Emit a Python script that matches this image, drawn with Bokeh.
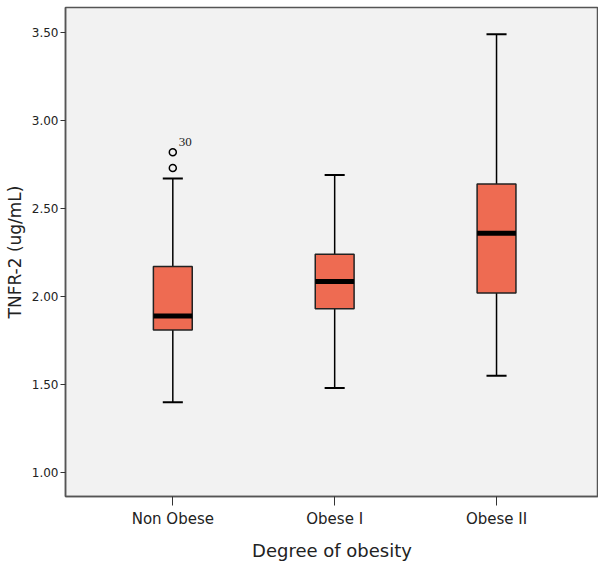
from bokeh.plotting import figure
from bokeh.models import Range1d, FixedTicker, NumeralTickFormatter, ColumnDataSource
from bokeh.embed import file_html
from bokeh.resources import INLINE

categories = ["Non Obese", "Obese I", "Obese II"]
positions = [1, 2, 3]
lower_whisker = [1.40, 1.48, 1.55]
q1 = [1.81, 1.93, 2.02]
median = [1.89, 2.085, 2.36]
q3 = [2.17, 2.24, 2.64]
upper_whisker = [2.67, 2.69, 3.49]
outlier_x = [1, 1]
outlier_y = [2.73, 2.82]
outlier_labels = ["", "30"]
y_ticks = [1.0, 1.5, 2.0, 2.5, 3.0, 3.5]

FONT = "DejaVu Sans"
box_w = 0.24
cap_w = 0.124

p = figure(width=591, height=560, output_backend="svg", toolbar_location=None,
           x_range=Range1d(0.337, 3.63), y_range=Range1d(0.864, 3.642),
           min_border_left=65, min_border_top=7, min_border_right=0, min_border_bottom=10)
p.frame_width = 533
p.frame_height = 489
p.background_fill_color = "#f2f2f2"
p.border_fill_color = "white"
p.outline_line_color = "#555555"
p.outline_line_width = 1.5
p.grid.visible = False

src = ColumnDataSource(dict(x=positions, lw=lower_whisker, q1=q1, med=median, q3=q3, uw=upper_whisker,
                            capl=[x - cap_w / 2 for x in positions], capr=[x + cap_w / 2 for x in positions],
                            ml=[x - box_w / 2 for x in positions], mr=[x + box_w / 2 for x in positions]))

# whiskers
p.segment(x0="x", y0="lw", x1="x", y1="q1", source=src, line_color="black", line_width=1.5)
p.segment(x0="x", y0="q3", x1="x", y1="uw", source=src, line_color="black", line_width=1.5)
p.segment(x0="capl", y0="lw", x1="capr", y1="lw", source=src, line_color="black", line_width=2)
p.segment(x0="capl", y0="uw", x1="capr", y1="uw", source=src, line_color="black", line_width=2)
# boxes
p.vbar(x="x", width=box_w, bottom="q1", top="q3", source=src, fill_color="#EE6B52",
       line_color="#222222", line_width=1.5)
# medians
p.segment(x0="ml", y0="med", x1="mr", y1="med", source=src, line_color="black", line_width=5)

# outliers
p.scatter(outlier_x, outlier_y, marker="circle", size=7, fill_color=None, line_color="black", line_width=1.5)
p.text(x=outlier_x, y=outlier_y, text=outlier_labels, x_offset=6, y_offset=-6,
       text_font_size="13px", text_font=FONT, text_color="#222222", text_baseline="bottom")

p.xaxis.ticker = FixedTicker(ticks=positions)
p.xaxis.major_label_overrides = {pos: c for pos, c in zip(positions, categories)}
p.yaxis.ticker = FixedTicker(ticks=y_ticks)
p.yaxis.formatter = NumeralTickFormatter(format="0.00")

for ax in (p.xaxis[0], p.yaxis[0]):
    ax.axis_line_color = "#555555"
    ax.axis_line_width = 1.5
    ax.major_tick_line_color = "#333333"
    ax.minor_tick_line_color = None
    ax.major_tick_in = 0
    ax.major_label_text_font = FONT
    ax.axis_label_text_font = FONT
    ax.axis_label_text_font_style = "normal"
    ax.major_label_text_color = "#222222"
    ax.axis_label_text_color = "#222222"

p.xaxis.major_tick_out = 9
p.yaxis.major_tick_out = 5
p.xaxis.major_label_text_font_size = "15px"
p.yaxis.major_label_text_font_size = "12px"
p.xaxis.axis_label = "Degree of obesity"
p.yaxis.axis_label = "TNFR-2 (ug/mL)"
p.xaxis.axis_label_text_font_size = "18px"
p.yaxis.axis_label_text_font_size = "17px"
p.xaxis.major_label_standoff = 4
p.yaxis.major_label_standoff = 2
p.xaxis.axis_label_standoff = 9
p.yaxis.axis_label_standoff = 4

open("out.html", "w").write(file_html(p, INLINE))
